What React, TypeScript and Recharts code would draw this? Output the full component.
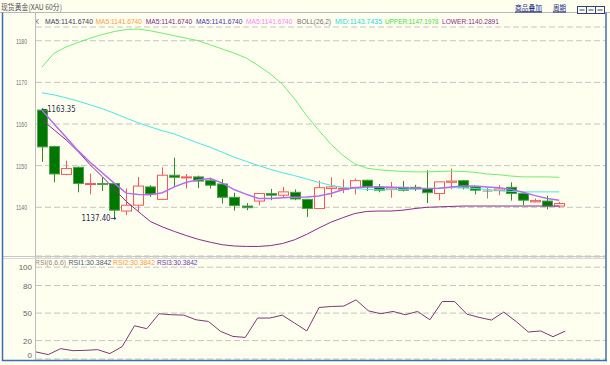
import { Bar, CartesianGrid, ComposedChart, Line, LineChart, XAxis, YAxis } from "recharts";

// 60 min candles
const opens = [
  1163.35, 1154.6, 1147.9, 1149.6, 1145.6, 1145.7, 1145.7, 1139.1, 1140.5, 1144.9, 1141.9,
  1147.7, 1147.1, 1147.3, 1146.4, 1145.6, 1142.4, 1140.3, 1141.5, 1143.3, 1142.9, 1143.6,
  1141.9, 1139.7, 1144.5, 1144.5, 1144.8, 1146.5, 1144.9, 1144.4, 1144.8, 1144.8, 1144.5,
  1143.3, 1146.0, 1146.4, 1144.9, 1143.9, 1144.0, 1144.8, 1143.3, 1141.3, 1141.5, 1140.3,
];
const highs = [
  1163.35, 1154.8, 1151.2, 1149.8, 1148.1, 1147.2, 1145.8, 1144.5, 1147.3, 1145.3, 1149.6,
  1151.9, 1148.0, 1147.6, 1147.1, 1146.8, 1143.5, 1141.0, 1143.3, 1144.4, 1144.9, 1144.3,
  1142.0, 1146.4, 1147.2, 1146.7, 1146.9, 1146.6, 1145.6, 1146.1, 1146.3, 1145.4, 1148.9,
  1146.1, 1149.3, 1146.6, 1145.0, 1144.7, 1145.3, 1146.0, 1143.4, 1142.1, 1142.8, 1141.3,
];
const lows = [
  1150.9, 1146.0, 1147.7, 1143.6, 1143.1, 1143.9, 1137.4, 1138.1, 1138.9, 1142.5, 1141.9,
  1144.9, 1144.5, 1144.6, 1144.5, 1140.9, 1139.2, 1139.3, 1140.5, 1141.7, 1142.4, 1141.7,
  1137.7, 1139.6, 1142.4, 1143.4, 1143.1, 1143.9, 1143.6, 1142.3, 1143.8, 1143.9, 1141.0,
  1141.7, 1144.4, 1144.3, 1143.1, 1142.1, 1142.9, 1141.6, 1140.5, 1141.2, 1139.5, 1139.9,
];
const closes = [
  1154.5, 1148.0, 1149.3, 1145.7, 1145.7, 1145.5, 1139.3, 1140.5, 1145.1, 1143.2, 1147.7,
  1147.2, 1147.3, 1146.3, 1145.3, 1142.4, 1140.4, 1139.9, 1143.3, 1142.9, 1143.7, 1142.0,
  1139.7, 1144.7, 1144.9, 1144.6, 1146.4, 1144.9, 1144.1, 1144.8, 1144.1, 1144.4, 1143.5,
  1146.1, 1146.3, 1144.7, 1144.1, 1143.9, 1144.4, 1143.3, 1141.7, 1141.6, 1140.3, 1140.9,
];

const ma5 = [
  1163.3, 1160.0, 1156.8, 1153.6, 1150.8, 1148.3, 1145.8, 1143.4, 1143.1, 1143.0, 1143.5,
  1144.9, 1146.0, 1146.6, 1146.9, 1145.8, 1144.2, 1143.1, 1142.1, 1142.1, 1142.3, 1142.4,
  1142.5, 1142.7, 1143.3, 1144.2, 1144.7, 1144.9, 1144.9, 1144.8, 1144.7, 1144.6, 1144.5,
  1144.6, 1144.9, 1145.1, 1145.1, 1144.9, 1144.7, 1144.3, 1143.6, 1142.8, 1142.1, 1141.7,
];
const bollMid = [
  1167.5, 1167.0, 1166.3, 1165.5, 1164.6, 1163.7, 1162.6, 1161.4, 1160.3, 1159.3, 1158.4,
  1157.6, 1156.5, 1155.4, 1154.4, 1153.2, 1152.0, 1151.0, 1150.0, 1149.1, 1148.3, 1147.6,
  1146.8, 1146.0, 1145.3, 1144.8, 1144.5, 1144.3, 1144.2, 1144.2, 1144.3, 1144.4, 1144.5,
  1144.6, 1144.7, 1144.7, 1144.5, 1144.3, 1144.0, 1143.8, 1143.7, 1143.7, 1143.7, 1143.7,
];
const bollUpper = [
  1173.7, 1177.0, 1178.5, 1179.6, 1180.6, 1181.5, 1182.2, 1182.7, 1182.8, 1182.4, 1181.8,
  1181.2, 1180.6, 1180.0, 1179.0, 1178.0, 1177.0, 1175.8, 1174.0, 1172.0, 1169.5, 1166.0,
  1162.0, 1158.5, 1155.2, 1152.5, 1150.4, 1149.4, 1149.0, 1148.8, 1148.6, 1148.5, 1148.5,
  1148.6, 1148.7, 1148.6, 1148.4, 1148.0, 1147.8, 1147.5, 1147.3, 1147.3, 1147.3, 1147.2,
];
const bollLower = [
  1161.0, 1158.6, 1156.2, 1153.4, 1150.2, 1147.4, 1144.4, 1141.4, 1139.0, 1136.6, 1135.3,
  1134.2, 1133.2, 1132.3, 1131.6, 1131.0, 1130.7, 1130.6, 1130.6, 1130.8, 1131.3, 1132.2,
  1133.5, 1135.0, 1136.4, 1137.5, 1138.5, 1139.0, 1139.1, 1139.1, 1139.3, 1139.7, 1140.0,
  1140.1, 1140.2, 1140.3, 1140.3, 1140.3, 1140.3, 1140.3, 1140.3, 1140.3, 1140.3, 1140.3,
];
const rsi = [
  7.7, 4.8, 11.3, 9.1, 9.4, 10.2, 5.9, 13.5, 36.2, 33.0, 49.3, 48.2, 47.8, 42.7, 40.9,
  30.1, 24.6, 23.5, 44.6, 44.6, 47.8, 39.2, 30.5, 56.1, 57.2, 57.6, 64.4, 52.5, 49.3,
  51.8, 48.2, 51.8, 42.7, 62.6, 62.6, 48.9, 45.3, 42.4, 51.1, 40.9, 29.4, 30.5, 24.3, 30.4,
];

const priceTicks = [1140, 1150, 1160, 1170, 1180];
const rsiTicks = [0, 20, 50, 80, 100];
const highMark = 0;
const lowMark = 6;

const bars = opens.map((o, i) => ({
  i,
  open: o,
  high: highs[i],
  low: lows[i],
  close: closes[i],
  ma5: ma5[i],
  mid: bollMid[i],
  upper: bollUpper[i],
  lower: bollLower[i],
}));
const rsiData = rsi.map((v, i) => ({ i, rsi: v }));

const BG = "#FFFFF0";
const FONT = "'Liberation Sans Narrow', 'Liberation Sans', Arial, sans-serif";
const GRID = "#C4C4C4";

function Candle(props: any) {
  const { x, y, width, height, payload, index } = props;
  if (!payload || height == null) return null;
  const { open, close, high, low } = payload;
  const k = high > low ? height / (high - low) : 0;
  const py = (v: number) => y + (high - v) * k;
  const cx = Math.round(x + width / 2) + 0.5;
  const up = close > open;
  const flat = close === open;
  const wick = flat ? "#8a8a8a" : up ? "#F25A5A" : "#2E8B2E";
  const top = py(Math.max(open, close));
  const bot = py(Math.min(open, close));
  const bh = Math.max(bot - top, 1);
  return (
    <g>
      <line x1={cx} x2={cx} y1={py(high)} y2={py(low)} stroke={wick} strokeWidth={1} />
      {flat ? (
        <line x1={cx - 5} x2={cx + 5} y1={top} y2={top} stroke={wick} strokeWidth={1} />
      ) : up ? (
        <rect x={cx - 5} y={top} width={10} height={bh} fill={BG} stroke="#F25A5A" strokeWidth={1} />
      ) : (
        <rect x={cx - 5} y={top} width={10} height={bh} fill="#007800" stroke="#4FA04F" strokeWidth={1} />
      )}
      {index === highMark && (
        <text x={cx - 1} y={py(high) + 2} fontSize={9} fill="#1F2F50" fontFamily="'DejaVu Sans Condensed', 'DejaVu Sans', sans-serif" textLength={34} lengthAdjust="spacingAndGlyphs">
          {"←" + high.toFixed(2)}
        </text>
      )}
      {index === lowMark && (
        <text x={cx + 2} y={py(low) + 3} fontSize={9} fill="#1F2F50" fontFamily="'DejaVu Sans Condensed', 'DejaVu Sans', sans-serif" textAnchor="end" textLength={35} lengthAdjust="spacingAndGlyphs">
          {low.toFixed(2) + "→"}
        </text>
      )}
    </g>
  );
}

const PriceTick = (p: any) => (
  <text x={27} y={p.y + 3} textAnchor="end" fontSize={8} fill="#707070" fontFamily={FONT} textLength={11} lengthAdjust="spacingAndGlyphs">
    {p.payload.value}
  </text>
);

const RsiTick = (p: any) => (
  <text x={32} y={p.y + (p.payload.value === 0 ? -1 : 3)} textAnchor="end" fontSize={8} fill="#666666" fontFamily={FONT}>
    {String(p.payload.value)}
  </text>
);

type Piece = { x: number; w: number; t: string; c: string };
const mainHeader: Piece[] = [
  { x: 35, w: 4, t: "K", c: "#505050" },
  { x: 45, w: 48, t: "MA5:1141.6740", c: "#3A4060" },
  { x: 95.5, w: 46.5, t: "MA5:1141.6740", c: "#FF9A3C" },
  { x: 145.7, w: 46.5, t: "MA5:1141.6740", c: "#7A2A8A" },
  { x: 196, w: 46.5, t: "MA5:1141.6740", c: "#4A30B0" },
  { x: 246, w: 46.5, t: "MA5:1141.6740", c: "#FF80FF" },
  { x: 297, w: 34, t: "BOLL(26,2)", c: "#707070" },
  { x: 335, w: 47, t: "MID:1143.7435", c: "#28D8E0" },
  { x: 385, w: 53.5, t: "UPPER:1147.1978", c: "#40E040" },
  { x: 442, w: 57, t: "LOWER:1140.2891", c: "#8A2A8A" },
];
const rsiHeader: Piece[] = [
  { x: 35, w: 31, t: "RSI(6,6,6)", c: "#A08878" },
  { x: 68.5, w: 43, t: "RSI1:30.3842", c: "#4A5A7A" },
  { x: 113, w: 42, t: "RSI2:30.3842", c: "#FF9A3C" },
  { x: 157, w: 40.5, t: "RSI3:30.3842", c: "#6A3AB0" },
];

function Overlay() {
  return (
    <svg width={610} height={365} style={{ position: "absolute", left: 0, top: 0, pointerEvents: "none" }}>
      <text x={1} y={9.5} fontSize={8} fill="#505050" fontFamily="'Noto Sans CJK SC', sans-serif" textLength={61} lengthAdjust="spacingAndGlyphs">
        现货黄金(XAU 60分)
      </text>
      <line x1={0} x2={610} y1={12.5} y2={12.5} stroke="#B8B8B8" />
      <text x={515} y={11} fontSize={8} fill="#1A2A80" fontFamily="'Noto Sans CJK SC', sans-serif" textLength={27} lengthAdjust="spacingAndGlyphs">
        商品叠加
      </text>
      <line x1={515} x2={542} y1={12} y2={12} stroke="#1A2A80" />
      <text x={553} y={11} fontSize={8} fill="#1A2A80" fontFamily="'Noto Sans CJK SC', sans-serif" textLength={13} lengthAdjust="spacingAndGlyphs">
        周期
      </text>
      <line x1={553} x2={566} y1={12} y2={12} stroke="#1A2A80" />
      {[577.5, 586.5, 595.5].map((bx) => (
        <g key={bx}>
          <rect x={bx} y={6.5} width={9} height={7} fill={BG} stroke="#304080" />
          <line x1={bx + 2} x2={bx + 7} y1={10} y2={10} stroke="#304080" />
        </g>
      ))}
      {mainHeader.map((h) => (
        <text key={h.x} x={h.x} y={23.5} fontSize={7.5} fill={h.c} fontFamily={FONT} textLength={h.w} lengthAdjust="spacingAndGlyphs">
          {h.t}
        </text>
      ))}
      {rsiHeader.map((h) => (
        <text key={h.x} x={h.x} y={264.5} fontSize={7.5} fill={h.c} fontFamily={FONT} textLength={h.w} lengthAdjust="spacingAndGlyphs">
          {h.t}
        </text>
      ))}
      <line x1={35.5} x2={35.5} y1={13} y2={360} stroke="#BDBDBD" />
      <line x1={3} x2={605} y1={256.5} y2={256.5} stroke="#C8C8C8" />
      <line x1={3} x2={605} y1={258.5} y2={258.5} stroke="#D8D8D8" />
      <line x1={2.5} x2={2.5} y1={12.5} y2={361} stroke="#3C6EB4" strokeWidth={1.5} />
      <line x1={606} x2={606} y1={12.5} y2={361} stroke="#3C6EB4" strokeWidth={1.5} />
      <line x1={2} x2={607} y1={360.5} y2={360.5} stroke="#3C6EB4" strokeWidth={1.5} />
    </svg>
  );
}

export default function App() {
  return (
    <div style={{ position: "absolute", left: 0, top: 0, width: 610, height: 365, background: BG, overflow: "hidden" }}>
      <div style={{ position: "absolute", left: 0, top: 0 }}>
        <ComposedChart width={610} height={257} data={bars} margin={{ top: 27, right: 4, left: 0, bottom: 1 }}>
          <CartesianGrid vertical={false} stroke={GRID} strokeDasharray="6 3" />
          <XAxis dataKey="i" hide padding={{ left: 0, right: 40.7 }} />
          <YAxis
            domain={[1128.3, 1183.3]}
            allowDataOverflow
            ticks={priceTicks}
            interval={0}
            width={36}
            axisLine={false}
            tickLine={false}
            tick={<PriceTick />}
          />
          <Bar dataKey={(d: any) => [d.low, d.high]} shape={<Candle />} barSize={10} isAnimationActive={false} />
          <Line dataKey="upper" stroke="#6EEE6E" strokeWidth={1} dot={false} activeDot={false} isAnimationActive={false} />
          <Line dataKey="mid" stroke="#48E6E6" strokeWidth={1} dot={false} activeDot={false} isAnimationActive={false} />
          <Line dataKey="lower" stroke="#8A2A8A" strokeWidth={1} dot={false} activeDot={false} isAnimationActive={false} />
          <Line dataKey="ma5" stroke="#B46CF0" strokeWidth={1.5} dot={false} activeDot={false} isAnimationActive={false} />
        </ComposedChart>
      </div>
      <div style={{ position: "absolute", left: 0, top: 0 }}>
        <LineChart width={610} height={365} data={rsiData} margin={{ top: 258, right: 4, left: 0, bottom: 6 }}>
          <CartesianGrid vertical={false} stroke={GRID} strokeDasharray="6 3" />
          <XAxis dataKey="i" hide padding={{ left: 0, right: 40.7 }} />
          <YAxis
            domain={[0, 110]}
            allowDataOverflow
            ticks={rsiTicks}
            interval={0}
            width={36}
            axisLine={false}
            tickLine={false}
            tick={(p: any) => <RsiTick {...p} />}
          />
          <Line dataKey="rsi" stroke="#7B3A78" strokeWidth={1} dot={false} activeDot={false} isAnimationActive={false} />
        </LineChart>
      </div>
      <Overlay />
    </div>
  );
}
